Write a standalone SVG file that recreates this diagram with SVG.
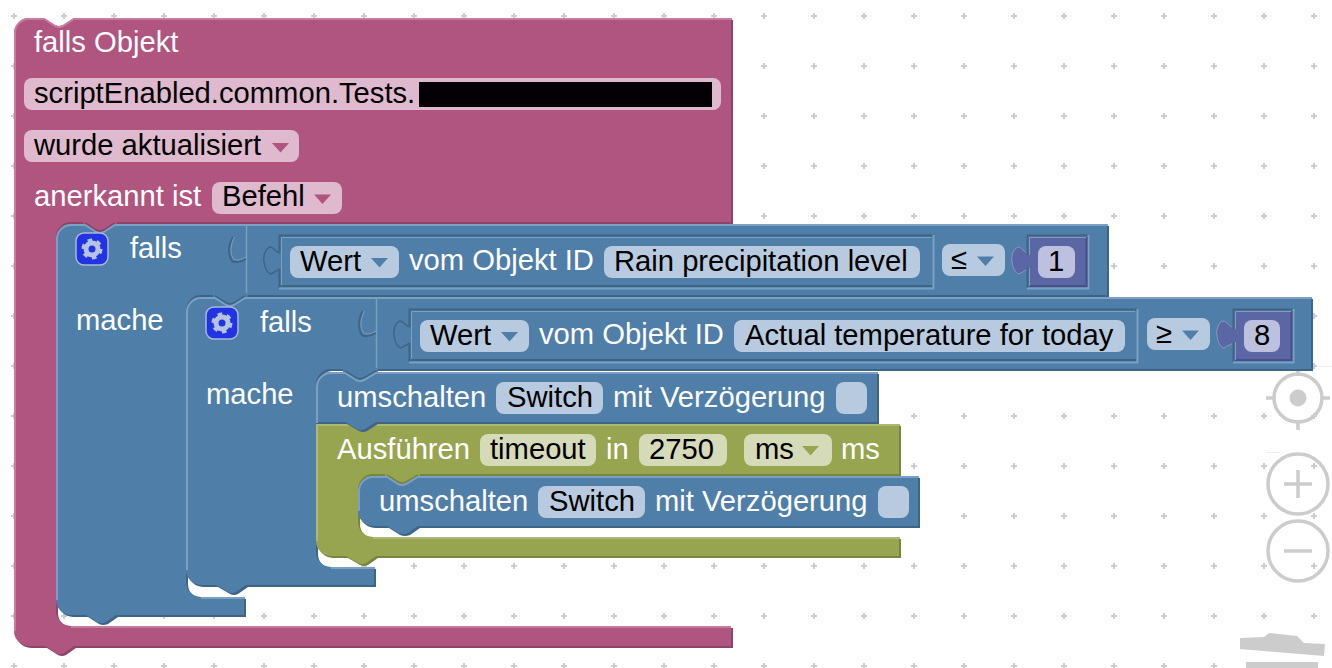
<svg xmlns="http://www.w3.org/2000/svg" xmlns:xlink="http://www.w3.org/1999/xlink" width="1332" height="668" viewBox="0 0 1332 668">
<style>
text{font-family:"Liberation Sans",Arial,sans-serif;font-size:29.2px}
.w{fill:#fff}.k{fill:#000}
.pm{fill:#b0557f}.pd{fill:#8d4466}.pl{fill:none;stroke:#c57c9f;stroke-width:2}.pf{fill:#dfb9cd}
.bm{fill:#4f7ea8}.bd{fill:#3f6586}.bl{fill:none;stroke:#7ba0c2;stroke-width:2}.bf{fill:#b8cadf}
.gm{fill:#98a550}.gd{fill:#7a8440}.gl{fill:none;stroke:#adb873;stroke-width:2}.gf{fill:#d5dab8}
.vm{fill:#5b67a5}.vf{fill:#bdc0de}
.sd{fill:none;stroke:#3f6586;stroke-width:2}.sl{fill:none;stroke:#7ba0c2;stroke-width:2}
.th{stroke-width:1}.mid{stroke-width:1.5}
.ed{fill:none;stroke-width:2}.edp{stroke:#8d4466}.edb{stroke:#3f6586}.edg{stroke:#7a8440}
.vd{fill:none;stroke:#494f86;stroke-width:2}.vl{fill:none;stroke:#8d95c4;stroke-width:1}
.ctl{fill:none;stroke:#ccc;stroke-width:3.5}
.ctf{fill:#ccc}
</style>
<defs>
<pattern id="grid" patternUnits="userSpaceOnUse" x="-11" y="-9" width="50" height="50"><path d="M24 22h2v2h2v2h-2v2h-2v-2h-2v-2h2z" fill="#ccc"/></pattern>
<path id="arr" d="M0 0H17L8.500 9.500Z"/>
<g id="stab"><path class="sd" d="M233 237C228 245 228 255 232 261C236 263 241 262 246 259"/><path class="sl th" d="M234.500 237C230 245 230 254 233.500 259C237 261 241 260 246 257"/></g>
<path id="vtab" d="M281 253C277 253 274 247 270 247C265 249 263 256 264 262C265 268 267 273 271 274L281 269Z"/>
<path id="vtabe" d="M280 253C276 253 274 247 270 247C265 249 263 256 264 262C265 268 267 273 271 274L280 269"/>
<g id="gear"><rect x="-16" y="-16" width="32" height="32" rx="8" fill="#2233e6" stroke="#a9bad6" stroke-width="1.500"/><circle r="6" fill="none" stroke="#b6c3e2" stroke-width="5"/><circle r="8.500" fill="none" stroke="#b6c3e2" stroke-width="4" stroke-dasharray="4.400 4.500"/></g>
</defs>
<rect width="1332" height="668" fill="#fff"/>
<rect width="1332" height="668" fill="url(#grid)"/>

<g id="controls">
<circle class="ctl" cx="1298" cy="398" r="24"/><circle class="ctf" cx="1298" cy="398" r="8.500"/>
<path class="ctl" d="M1298 368V376M1298 420V430M1266 398H1274M1322 398H1330"/>
<circle class="ctl" cx="1298" cy="484" r="30"/><path class="ctl" d="M1284 484H1312M1298 470V498"/>
<circle class="ctl" cx="1298" cy="551" r="30"/><path class="ctl" d="M1284 551H1312"/>
<path class="ctf" d="M1240 638L1264 637L1269 633L1297 636L1304 643L1325 644L1324 656L1240 649Z"/>
<path class="ctf" d="M1246 662H1318V668H1246Z"/>
<path d="M1266 452.500H1280M1318 366.500H1332" stroke="#eee" stroke-width="1"/>
</g>

<g id="block-falls-objekt">
<path class="pd" transform="translate(2 2)" d="M14 33A15 15 0 0 1 29 18H44L55 25Q59 27 63 25L74 18H731V222H71A15 15 0 0 0 56 237V611A15 15 0 0 0 71 626H731V646H74L64 653Q60 655 56 653L45 646H29A15 15 0 0 1 14 631Z"/>
<path class="pm" d="M14 33A15 15 0 0 1 29 18H44L55 25Q59 27 63 25L74 18H731V222H71A15 15 0 0 0 56 237V611A15 15 0 0 0 71 626H731V646H74L64 653Q60 655 56 653L45 646H29A15 15 0 0 1 14 631Z"/>
<path class="pl" d="M15 631V33A14 14 0 0 1 29 19H44L55 26Q59 28 63 26L74 19H732M71 627H731"/>
<text class="w" x="34" y="52">falls Objekt</text>
<rect class="pf" x="24" y="78" width="697" height="32" rx="8"/>
<text class="k" x="34" y="103">scriptEnabled.common.Tests.</text>
<rect x="419" y="82" width="293" height="25" fill="#050005"/>
<rect class="pf" x="24" y="130" width="275" height="32" rx="8"/>
<text class="k" x="34" y="155">wurde aktualisiert</text>
<use href="#arr" class="pm" x="272" y="143"/>
<text class="w" x="34" y="206">anerkannt ist</text>
<rect class="pf" x="212" y="182" width="130" height="32" rx="8"/>
<text class="k" x="222" y="206">Befehl</text>
<use href="#arr" class="pm" x="314" y="194.500"/>
</g>

<g id="block-falls-1">
<path class="bd" transform="translate(2 2)" d="M56 239A15 15 0 0 1 71 224H85L96 231Q100 233 104 231L115 224H1107V295H201A15 15 0 0 0 186 310V582A15 15 0 0 0 201 597H244V615H116L106 622Q101 624 97 622L86 615H71A15 15 0 0 1 56 600Z"/>
<path class="pm" d="M83 220H117V226L105 236H95L83 226Z"/>
<path class="ed edp" d="M85 223L96 230Q100 232 104 230L115 223"/>
<path class="bm" d="M56 239A15 15 0 0 1 71 224H85L96 231Q100 233 104 231L115 224H1107V295H201A15 15 0 0 0 186 310V582A15 15 0 0 0 201 597H244V615H116L106 622Q101 624 97 622L86 615H71A15 15 0 0 1 56 600Z"/>
<path class="bl" d="M57 600V239A14 14 0 0 1 71 225H85L96 232Q100 234 104 232L115 225H1108M201 598H245"/>
<use href="#gear" x="92" y="249"/>
<text class="w" x="130" y="258">falls</text>
<text class="w" x="76" y="330">mache</text>
<path class="sl mid" d="M246.500 224V297"/>
<use href="#stab"/>
<path class="sd" d="M279.500 288V235.500H933"/><path class="sl" d="M279 288.500H933.500V235"/>
<path class="sl th" d="M281.500 287V237.500H931"/><path class="sd" d="M281 286H932"/>
<use href="#vtab" class="bm"/>
<use href="#vtabe" class="sd mid"/>
<rect class="bf" x="290" y="246" width="109" height="32" rx="8"/>
<text class="k" x="300" y="271">Wert</text>
<use href="#arr" class="bm" x="371" y="258"/>
<text class="w" x="409" y="270">vom Objekt ID</text>
<rect class="bf" x="604" y="246" width="316" height="32" rx="8"/>
<text class="k" x="614" y="271">Rain precipitation level</text>
<rect class="bf" x="942" y="244" width="63" height="32" rx="8"/>
<text class="k" x="951" y="269">≤</text>
<use href="#arr" class="bm" x="977" y="256.500"/>
<use href="#vtab" class="vm" x="748"/>
<use href="#vtabe" class="vl" x="748"/>
<path class="sd" d="M1027.500 288V235.500H1088"/><path class="sl" d="M1027 288.500H1088.500V235"/>
<rect class="vm" x="1029" y="237" width="58" height="50"/>
<path class="vd" d="M1029 286H1086.500V237"/>
<path class="vl" d="M1029.500 286V237.500H1086"/>
<rect class="vm" x="1024" y="255" width="7" height="13"/>
<rect class="vf" x="1038" y="246" width="37" height="32" rx="8"/>
<text class="k" x="1048" y="271">1</text>
</g>

<g id="block-falls-2">
<path class="bd" transform="translate(2 2)" d="M186 312A15 15 0 0 1 201 297H215L226 304Q230 306 234 304L245 297H1311V369H331A15 15 0 0 0 316 384V552A15 15 0 0 0 331 567H374V585H246L236 592Q232 594 228 592L216 585H201A15 15 0 0 1 186 570Z"/>
<path class="bm" d="M213 293H247V299L235 309H225L213 299Z"/>
<path class="ed edb" d="M215 296L226 303Q230 305 234 303L245 296"/>
<path class="bm" d="M186 312A15 15 0 0 1 201 297H215L226 304Q230 306 234 304L245 297H1311V369H331A15 15 0 0 0 316 384V552A15 15 0 0 0 331 567H374V585H246L236 592Q232 594 228 592L216 585H201A15 15 0 0 1 186 570Z"/>
<path class="bl" d="M187 570V312A14 14 0 0 1 201 298H215L226 305Q230 307 234 305L245 298H1312M331 568H375"/>
<use href="#gear" x="222" y="323"/>
<text class="w" x="260" y="332">falls</text>
<text class="w" x="206" y="404">mache</text>
<path class="sl mid" d="M376.500 298V371"/>
<use href="#stab" x="130" y="74"/>
<path class="sd" d="M409.500 362V309.500H1137"/><path class="sl" d="M409 362.500H1137.500V309"/>
<path class="sl th" d="M411.500 361V311.500H1135"/><path class="sd" d="M411 360H1136"/>
<use href="#vtab" class="bm" x="130" y="74"/>
<use href="#vtabe" class="sd mid" x="130" y="74"/>
<rect class="bf" x="420" y="320" width="109" height="32" rx="8"/>
<text class="k" x="430" y="345">Wert</text>
<use href="#arr" class="bm" x="501" y="332"/>
<text class="w" x="539" y="344">vom Objekt ID</text>
<rect class="bf" x="734" y="320" width="391" height="32" rx="8"/>
<text class="k" x="745" y="345">Actual temperature for today</text>
<rect class="bf" x="1147" y="318" width="63" height="32" rx="8"/>
<text class="k" x="1156" y="343">≥</text>
<use href="#arr" class="bm" x="1182" y="330.500"/>
<use href="#vtab" class="vm" x="953" y="74"/>
<use href="#vtabe" class="vl" x="953" y="74"/>
<path class="sd" d="M1233.500 362V309.500H1293"/><path class="sl" d="M1233 362.500H1293.500V309"/>
<rect class="vm" x="1235" y="311" width="57" height="50"/>
<path class="vd" d="M1235 360H1291.500V311"/>
<path class="vl" d="M1235.500 360V311.500H1291"/>
<rect class="vm" x="1229" y="329" width="7" height="13"/>
<rect class="vf" x="1244" y="320" width="36" height="32" rx="8"/>
<text class="k" x="1254" y="345">8</text>
</g>

<g id="block-ausfuehren">
<path class="gd" transform="translate(2 2)" d="M316 424H899V474H373A15 15 0 0 0 358 489V522A15 15 0 0 0 373 537H899V556H376L366 563Q362 565 358 563L346 556H331A15 15 0 0 1 316 541Z"/>
<path class="gm" d="M316 424H899V474H373A15 15 0 0 0 358 489V522A15 15 0 0 0 373 537H899V556H376L366 563Q362 565 358 563L346 556H331A15 15 0 0 1 316 541Z"/>
<path class="gl" d="M317 541V425H900M373 538H900"/>
<text class="w" x="337" y="459">Ausführen</text>
<rect class="gf" x="480" y="434" width="116" height="32" rx="8"/>
<text class="k" x="490" y="459">timeout</text>
<text class="w" x="606" y="459">in</text>
<rect class="gf" x="639" y="434" width="88" height="32" rx="8"/>
<text class="k" x="649" y="459">2750</text>
<rect class="gf" x="744" y="434" width="88" height="32" rx="8"/>
<text class="k" x="755" y="459">ms</text>
<use href="#arr" class="gm" x="802" y="446"/>
<text class="w" x="841" y="459">ms</text>
</g>

<g id="block-umschalten-1">
<path class="bd" transform="translate(2 2)" d="M316 387A15 15 0 0 1 331 372H345L356 379Q360 381 364 379L376 372H877V422H376L365 429Q361 431 357 429L345 422H316Z"/>
<path class="bm" d="M343 368H378V374L366 384H355L343 374Z"/>
<path class="ed edb" d="M345 371L356 378Q360 380 364 378L376 371"/>
<path class="bm" d="M316 387A15 15 0 0 1 331 372H345L356 379Q360 381 364 379L376 372H877V422H376L365 429Q361 431 357 429L345 422H316Z"/>
<path class="bl" d="M317 423V387A14 14 0 0 1 331 373H345L356 380Q360 382 364 380L376 373H878"/>
<text class="w" x="337" y="407">umschalten</text>
<rect class="bf" x="496" y="382" width="107" height="32" rx="8"/>
<text class="k" x="507" y="407">Switch</text>
<text class="w" x="613" y="407">mit Verzögerung</text>
<rect class="bf" x="836" y="382" width="31" height="32" rx="8"/>
</g>

<g id="block-umschalten-2">
<path class="bd" transform="translate(2 2)" d="M358 491A15 15 0 0 1 373 476H387L398 483Q402 485 406 483L418 476H918V526H418L408 533Q403 535 398 533L387 526H373A15 15 0 0 1 358 511Z"/>
<path class="gm" d="M385 472H420V478L408 488H397L385 478Z"/>
<path class="ed edg" d="M387 475L398 482Q402 484 406 482L418 475"/>
<path class="bm" d="M358 491A15 15 0 0 1 373 476H387L398 483Q402 485 406 483L418 476H918V526H418L408 533Q403 535 398 533L387 526H373A15 15 0 0 1 358 511Z"/>
<path class="bl" d="M359 511V491A14 14 0 0 1 373 477H387L398 484Q402 486 406 484L418 477H919"/>
<text class="w" x="379" y="511">umschalten</text>
<rect class="bf" x="538" y="486" width="107" height="32" rx="8"/>
<text class="k" x="549" y="511">Switch</text>
<text class="w" x="655" y="511">mit Verzögerung</text>
<rect class="bf" x="878" y="486" width="31" height="32" rx="8"/>
</g>
<g id="connectors"/>
</svg>
